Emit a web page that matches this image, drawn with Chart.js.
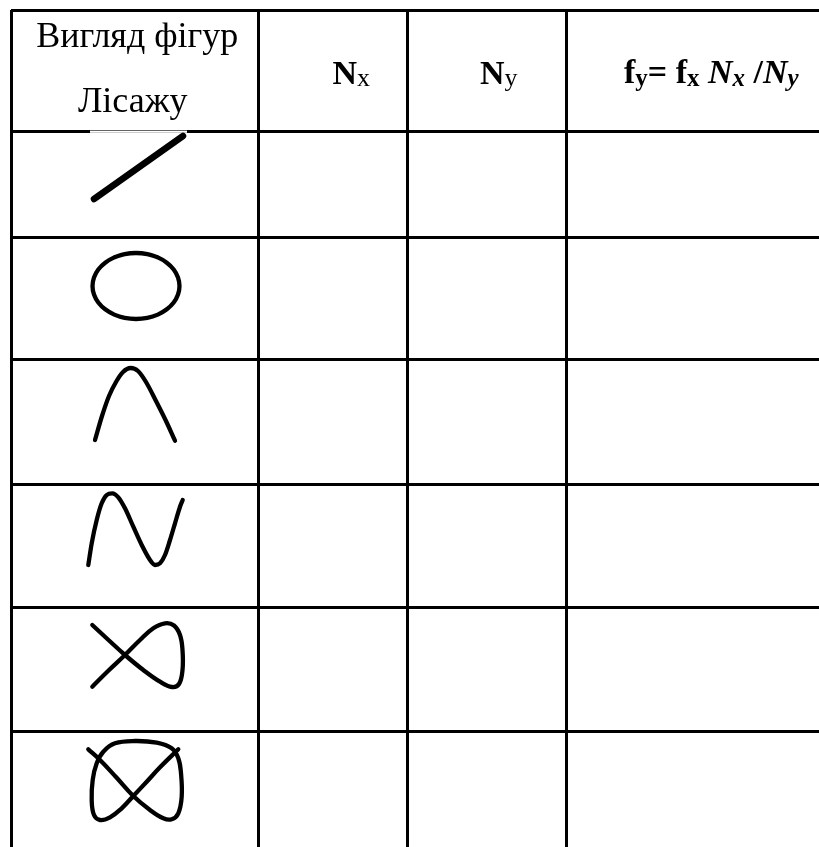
<!DOCTYPE html>
<html>
<head>
<meta charset="utf-8">
<script src="https://cdn.jsdelivr.net/npm/chart.js@4.4.1/dist/chart.umd.min.js"></script>
<style>
  html,body{margin:0;padding:0;background:#fff;}
  canvas{display:block;}
</style>
</head>
<body>
<canvas id="tbl" width="819" height="847"></canvas>
<script>
/* -------------------- Data -------------------- */
// table grid: column and row boundaries (page px)
const colEdges=[11,258.5,407.5,566.5];
const rowEdges=[10,131,237,359,484,607,731];

// header texts
const headFirst=['Вигляд фігур','Лісажу'];
const headNx=['N','x'];
const headNy=['N','y'];
const headF=['f','y','= ','f','x',' ','N','x',' /','N','y'];

// Lissajous figures as [x,y]
const figLine=[[94,199],[183,136]];
// closed loop: the first and last points overlap the start so the seam is hidden
const figEllipse=[[114.3,257.4],[124.7,254.1],[136,253],[147.3,254.1],[157.8,257.4],[166.8,262.7],
  [173.7,269.5],[178,277.5],[179.5,286],[178,294.5],[173.7,302.5],[166.8,309.3],[157.8,314.6],
  [147.3,317.9],[136,319],[124.7,317.9],[114.3,314.6],[105.2,309.3],[98.3,302.5],[94,294.5],
  [92.5,286],[94,277.5],[98.3,269.5],[105.2,262.7],[114.3,257.4],[124.7,254.1],[136,253],
  [147.3,254.1],[157.8,257.4]];
const figArch=[[95,440],[102,416],[109,396],[116,382],[123,372],[130.7,368],[138,371],
  [146,382],[156,401],[166,421],[175,440.7]];
const figWave=[[88.3,565],[91.7,543.3],[96.7,520],[101.7,503.3],[106.7,495],[112.3,493.3],[118.3,497.3],
  [125,508.3],[133.3,526.7],[141.7,545],[150,560],[155,565],[160,563.3],[165,555],[170,540],
  [175,523.3],[180,506.7],[182.7,500]];
const figFish=[[92.3,625],[108.5,640],[125,655],[143.3,670],[160,681.7],[172,687],[179,684],
  [182.5,670],[182.5,650],[180,635],[174,625.5],[165,623.3],[153.3,628.3],[140,640],[125,655],
  [108.3,670.7],[92.3,686.7]];
const figKnot=[[88.3,749.3],[100,760],[116,777],[133.3,796],[150,810],[163.3,818.3],[171.7,819.3],
  [178.3,813.3],[181.7,796.7],[181,773.3],[178.3,758.3],[171.7,748.3],[156.7,742.7],[135,741],
  [115,743.3],[103.3,751.7],[96.7,763.3],[92.7,780],[91.7,800],[94,815],[100,820],[110,817.3],
  [121.7,808.3],[133.3,796],[146.7,781.7],[160,767.3],[178.3,749.3]];

/* -------------------- Helpers -------------------- */
const serif='"Liberation Serif","Times New Roman",serif';
function pts(a){ return a.map(p=>({x:p[0],y:p[1]})); }
function curve(a,w,t,mode){
  return {data:pts(a), showLine:true, pointRadius:0, borderColor:'#000', borderWidth:w,
    tension:t, cubicInterpolationMode:mode||'default', borderCapStyle:'round', borderJoinStyle:'round'};
}
function drawRuns(ctx,x,y,runs){
  let cx=x;
  runs.forEach(r=>{
    ctx.font=`${r.f} ${r.s}px ${serif}`;
    ctx.fillText(r.t,cx,y+(r.dy||0));
    cx+=ctx.measureText(r.t).width;
  });
}

/* -------------------- Header plugin -------------------- */
const tablePlugin={
  id:'tableText',
  beforeDatasetsDraw(chart){
    // picture box of the first figure covers part of the header rule
    const ctx=chart.ctx;
    ctx.save();
    ctx.fillStyle='#fff';
    ctx.fillRect(90,130.6,97,2.2);
    ctx.restore();
  },
  afterDraw(chart){
    const ctx=chart.ctx, sx=chart.scales.x;
    ctx.save();
    ctx.fillStyle='#000';
    ctx.textBaseline='alphabetic';

    // column 1
    ctx.textAlign='center';
    ctx.font=`36px ${serif}`;
    const c0=(sx.getPixelForValue(colEdges[0])+sx.getPixelForValue(colEdges[1]))/2;
    ctx.fillText(headFirst[0],c0+2.5,47);
    ctx.fillText(headFirst[1],c0-2,112);

    ctx.textAlign='left';
    const bold='bold', sub=26, main=34;
    drawRuns(ctx,sx.getPixelForValue(colEdges[1])+74,84,[
      {t:headNx[0],f:bold,s:main},{t:headNx[1],f:'',s:sub,dy:2}]);
    drawRuns(ctx,sx.getPixelForValue(colEdges[2])+72.5,84,[
      {t:headNy[0],f:bold,s:main},{t:headNy[1],f:'',s:sub,dy:2}]);

    const bi='italic bold';
    const fmt=[
      {f:bold,s:main},{f:bold,s:sub-1,dy:3},{f:bold,s:main},{f:bold,s:main},{f:bold,s:sub-1,dy:3},
      {f:bold,s:main},{f:bi,s:main},{f:bi,s:sub-1,dy:3},{f:bold,s:main},{f:bi,s:main},{f:bi,s:sub-1,dy:3}];
    drawRuns(ctx,sx.getPixelForValue(colEdges[3])+57.5,83,headF.map((t,i)=>Object.assign({t},fmt[i])));
    ctx.restore();
  }
};

/* -------------------- Chart -------------------- */
const gridOpts={color:'#000',lineWidth:3,drawTicks:false};
new Chart(document.getElementById('tbl'),{
  type:'scatter',
  data:{datasets:[
    curve(figLine,6.5,0),
    curve(figEllipse,4.3,0.4),
    curve(figArch,4.3,0.4,'monotone'),
    curve(figWave,4.3,0.4,'monotone'),
    curve(figFish,4.3,0.4),
    curve(figKnot,4.3,0.4)
  ]},
  options:{
    responsive:false, animation:false, devicePixelRatio:1, events:[],
    layout:{padding:{left:colEdges[0],top:rowEdges[0],right:0,bottom:0}},
    plugins:{legend:{display:false},tooltip:{enabled:false}},
    scales:{
      x:{type:'linear',min:colEdges[0],max:819,
        afterBuildTicks:s=>{ s.ticks=colEdges.map(v=>({value:v})); },
        ticks:{display:false},grid:gridOpts,border:{display:false}},
      y:{type:'linear',reverse:true,min:rowEdges[0],max:847,
        afterBuildTicks:s=>{ s.ticks=rowEdges.map(v=>({value:v})); },
        ticks:{display:false},grid:gridOpts,border:{display:false}}
    }
  },
  plugins:[tablePlugin]
});
</script>
</body>
</html>
